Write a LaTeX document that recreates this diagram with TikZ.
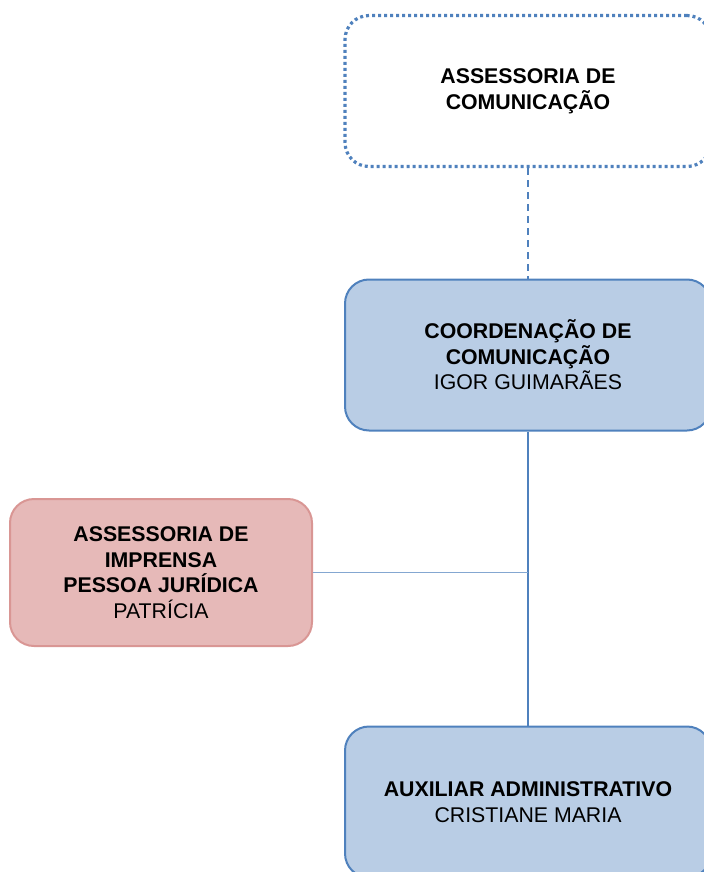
\documentclass[tikz,border=0pt]{standalone}
\usepackage{fontspec}
\setmainfont{Liberation Sans}
\usetikzlibrary{positioning}
\definecolor{azulclaro}{HTML}{B9CDE5}
\definecolor{azulborda}{HTML}{4F81BD}
\definecolor{rosaclaro}{HTML}{E6B9B8}
\definecolor{rosaborda}{HTML}{D99694}
\newcommand{\cargofont}{\fontsize{10.65pt}{12.8pt}\selectfont}

\begin{document}
\begin{tikzpicture}[x=0.5pt, y=-0.5pt,
    cargo/.style={draw=azulborda, fill=azulclaro, line width=1pt, rounded corners=12pt,
      minimum width=183pt, minimum height=75.5pt, align=center, font=\cargofont},
    externo/.style={cargo, draw=rosaborda, fill=rosaclaro, minimum width=151pt, minimum height=73.5pt},
    assessoria/.style={cargo, fill=white, line width=1.6pt, dash pattern=on 1.5pt off 1.5pt},
    ligacao/.style={draw=azulborda, line width=1pt},
    ligdash/.style={draw=azulborda, line width=1.2pt, dash pattern=on 3.5pt off 2.5pt},
    ligfina/.style={draw=azulborda!70, line width=0.4pt}]
        \useasboundingbox (0,0) rectangle (704,872);
        \clip (0,0) rectangle (704,872);

        % caixas
        \node[assessoria] (assess) at (528, 91) {\textbf{ASSESSORIA DE}\\\textbf{COMUNICAÇÃO}};
        \node[cargo] (coord) at (528, 355) {\textbf{COORDENAÇÃO DE}\\\textbf{COMUNICAÇÃO}\\IGOR GUIMARÃES};
        \node[externo] (imprensa) at (161, 572.5) {\textbf{ASSESSORIA DE}\\\textbf{IMPRENSA}\\\textbf{PESSOA JURÍDICA}\\PATRÍCIA};
        \node[cargo] (auxiliar) at (528, 802) {\textbf{AUXILIAR ADMINISTRATIVO}\\CRISTIANE MARIA};

        % ligacoes
        \draw[ligdash] (assess) -- (coord);
        \draw[ligacao] (coord) -- (auxiliar);
        \coordinate (juncao) at (coord.south |- imprensa.east);
        \draw[ligfina] (imprensa.east) -- (juncao);
      \end{tikzpicture}
\end{document}
